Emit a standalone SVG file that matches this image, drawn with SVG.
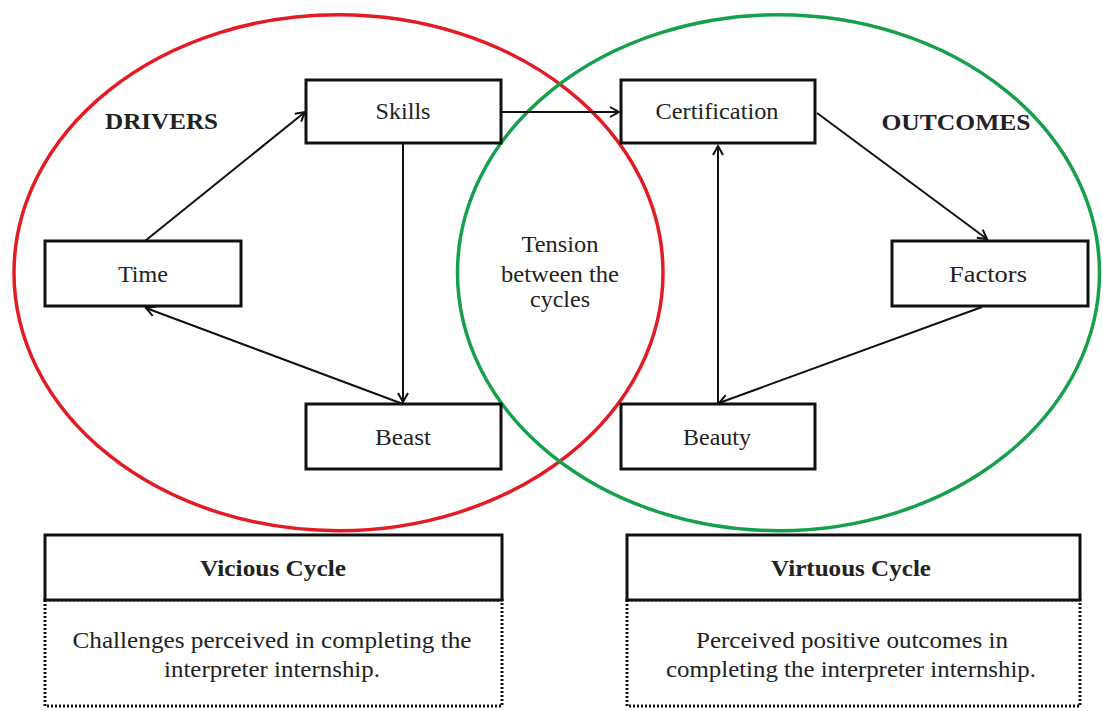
<svg xmlns="http://www.w3.org/2000/svg" width="1103" height="711" viewBox="0 0 1103 711">
<defs>
<style>
.box{fill:#fff;stroke:#111;stroke-width:3}
.dot{fill:#fff;stroke:#111;stroke-width:3;stroke-dasharray:2 2}
.t{font-family:"Liberation Serif","Times New Roman",serif;font-size:23px;fill:#222;text-anchor:middle}
.b{font-weight:bold}
.c{stroke:#111;stroke-width:2;fill:none}
</style>
<marker id="ah" markerUnits="userSpaceOnUse" markerWidth="14" markerHeight="14" viewBox="0 0 14 14" refX="12" refY="7" orient="auto">
<path d="M3,2 L12,7 L3,12" fill="none" stroke="#111" stroke-width="2"/>
</marker>
</defs>
<rect width="1103" height="711" fill="#fff"/>
<g id="cycles">
<ellipse cx="338.5" cy="272.7" rx="324.5" ry="258" fill="none" stroke="#e31b23" stroke-width="3.5"/>
<ellipse cx="778.5" cy="272.7" rx="321" ry="258" fill="none" stroke="#17a04c" stroke-width="3.5"/>
</g>
<g id="connectors">
<line class="c" x1="145" y1="241" x2="305" y2="112" marker-end="url(#ah)"/>
<line class="c" x1="501" y1="112" x2="619" y2="112" marker-end="url(#ah)"/>
<line class="c" x1="403" y1="143" x2="403" y2="402" marker-end="url(#ah)"/>
<line class="c" x1="403" y1="404" x2="146" y2="308" marker-end="url(#ah)"/>
<line class="c" x1="817" y1="113" x2="987" y2="239" marker-end="url(#ah)"/>
<line class="c" x1="982" y1="307" x2="719" y2="403" marker-end="url(#ah)"/>
<line class="c" x1="718" y1="404" x2="718" y2="146" marker-end="url(#ah)"/>
</g>
<g id="labels">
<text class="t b" x="161.5" y="129" textLength="113" lengthAdjust="spacingAndGlyphs">DRIVERS</text>
<text class="t b" x="956" y="130" textLength="149" lengthAdjust="spacingAndGlyphs">OUTCOMES</text>
</g>
<g id="tension">
<text class="t" x="560" y="252" textLength="77" lengthAdjust="spacingAndGlyphs">Tension</text>
<text class="t" x="560" y="282" textLength="118" lengthAdjust="spacingAndGlyphs">between the</text>
<text class="t" x="560" y="307" textLength="60" lengthAdjust="spacingAndGlyphs">cycles</text>
</g>
<g id="skills">
<rect class="box" x="306" y="80" width="195" height="63"/>
<text class="t" x="403" y="119" textLength="55" lengthAdjust="spacingAndGlyphs">Skills</text>
</g>
<g id="time">
<rect class="box" x="45" y="241" width="196" height="65"/>
<text class="t" x="143" y="282" textLength="50" lengthAdjust="spacingAndGlyphs">Time</text>
</g>
<g id="beast">
<rect class="box" x="306" y="404" width="195" height="65"/>
<text class="t" x="403" y="445" textLength="56" lengthAdjust="spacingAndGlyphs">Beast</text>
</g>
<g id="certification">
<rect class="box" x="621" y="80" width="194" height="63"/>
<text class="t" x="717" y="119" textLength="123" lengthAdjust="spacingAndGlyphs">Certification</text>
</g>
<g id="factors">
<rect class="box" x="892" y="241" width="196" height="65"/>
<text class="t" x="988" y="282" textLength="78" lengthAdjust="spacingAndGlyphs">Factors</text>
</g>
<g id="beauty">
<rect class="box" x="621" y="404" width="194" height="65"/>
<text class="t" x="717" y="445" textLength="68" lengthAdjust="spacingAndGlyphs">Beauty</text>
</g>
<g id="vicious">
<rect class="dot" x="45" y="600" width="457" height="106"/>
<rect class="box" x="45" y="535" width="457" height="65"/>
<text class="t b" x="273" y="576" textLength="146" lengthAdjust="spacingAndGlyphs">Vicious Cycle</text>
<text class="t" x="272" y="648" textLength="399" lengthAdjust="spacingAndGlyphs">Challenges  perceived in completing the</text>
<text class="t" x="272" y="677" textLength="216" lengthAdjust="spacingAndGlyphs">interpreter internship.</text>
</g>
<g id="virtuous">
<rect class="dot" x="627" y="600" width="453" height="106"/>
<rect class="box" x="627" y="535" width="453" height="65"/>
<text class="t b" x="851" y="576" textLength="160" lengthAdjust="spacingAndGlyphs">Virtuous Cycle</text>
<text class="t" x="852" y="648" textLength="312" lengthAdjust="spacingAndGlyphs">Perceived positive outcomes in</text>
<text class="t" x="851" y="677" textLength="370" lengthAdjust="spacingAndGlyphs">completing the interpreter internship.</text>
</g>
</svg>
